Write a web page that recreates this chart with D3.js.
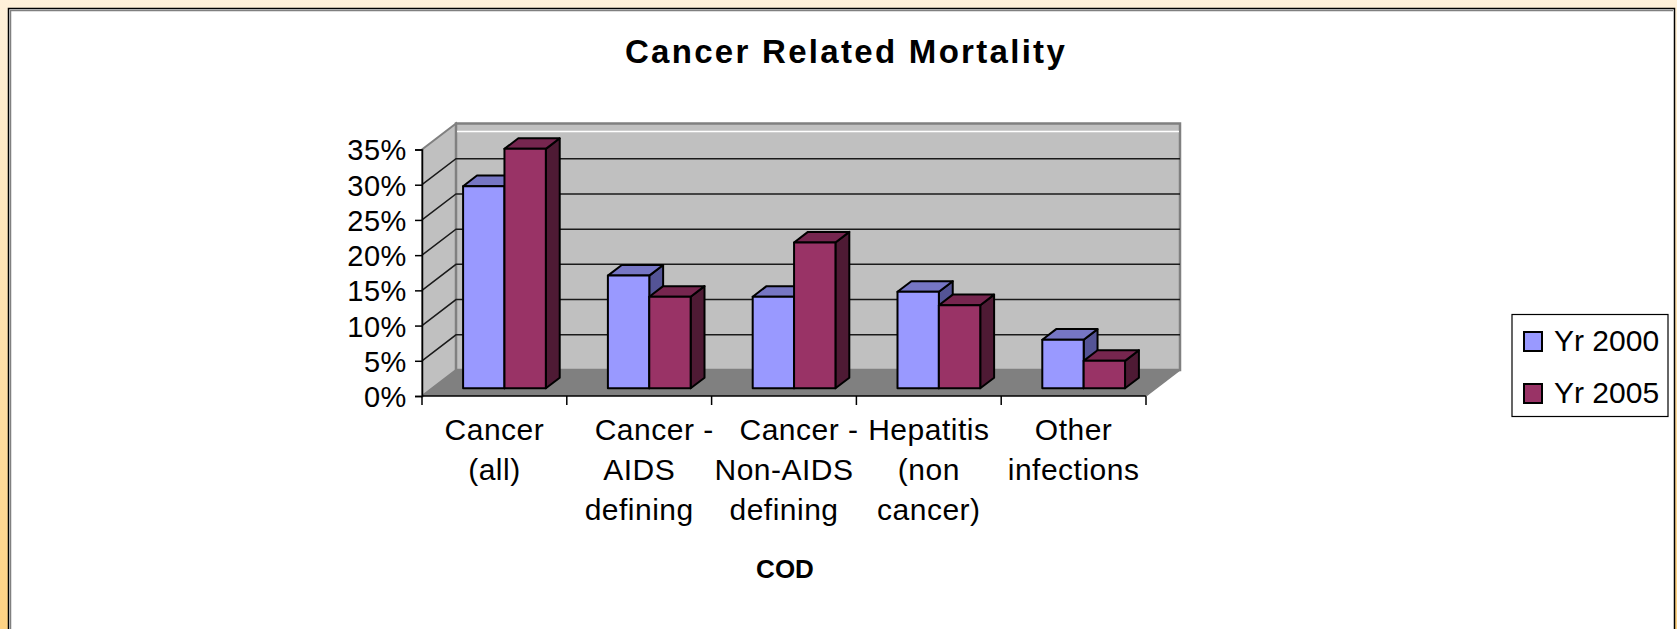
<!DOCTYPE html>
<html>
<head>
<meta charset="utf-8">
<script src="https://cdn.jsdelivr.net/npm/d3@7"></script>
<style>
  body { margin: 0; }
  text { font-family: "Liberation Sans", Arial, sans-serif; fill: #000; }
</style>
</head>
<body>
<div id="chart"></div>
<script>
// data
var categories = ["Cancer (all)", "Cancer - AIDS defining", "Cancer - Non-AIDS defining", "Hepatitis (non cancer)", "Other infections"];
var categoryLines = [["Cancer", "(all)"], ["Cancer -", "AIDS", "defining"], ["Cancer -", "Non-AIDS", "defining"], ["Hepatitis", "(non", "cancer)"], ["Other", "infections"]];
var seriesNames = ["Yr 2000", "Yr 2005"];
var yr2000 = [0.287, 0.16, 0.13, 0.137, 0.069];
var yr2005 = [0.34, 0.13, 0.207, 0.118, 0.039];
var yTicks = [0, 0.05, 0.10, 0.15, 0.20, 0.25, 0.30, 0.35];

var W = 1677, H = 629;
var colors = {
  "Yr 2000": { front: "#9999ff", top: "#7676c4", side: "#545496" },
  "Yr 2005": { front: "#993366", top: "#76264f", side: "#4e1a34" }
};

// 3d box geometry
var depthX = 34, depthY = -26;
var f0 = 0.296, f1 = 0.704;   // bar front / back depth as fraction of floor depth

var svg = d3.select("#chart").append("svg")
  .attr("width", W).attr("height", H);

var defs = svg.append("defs");
var grad = defs.append("linearGradient").attr("id", "bg")
  .attr("x1", 0).attr("y1", 0).attr("x2", 0).attr("y2", 1);
grad.append("stop").attr("offset", "0%").attr("stop-color", "#fff1da");
grad.append("stop").attr("offset", "100%").attr("stop-color", "#ffd383");

svg.append("rect").attr("width", W).attr("height", H).attr("fill", "url(#bg)");

// chart box
svg.append("rect")
  .attr("x", 8.5).attr("y", 8.5).attr("width", 1666).attr("height", 640)
  .attr("fill", "#fff").attr("stroke", "#000").attr("stroke-width", 1.5);
svg.append("path")
  .attr("d", "M10.5,650 V10.5 H1673")
  .attr("fill", "none").attr("stroke", "#808080").attr("stroke-width", 1.5);

// scales (front plane)
var x = d3.scaleBand().domain(categories).range([422, 1146])
  .paddingInner(1.5 / 3.5).paddingOuter(0.75 / 3.5);
var xs = d3.scaleBand().domain(seriesNames).range([0, x.bandwidth()]);
var y = d3.scaleLinear().domain([0, 0.35]).range([396, 149.5]);

var x0 = x.range()[0], x1 = x.range()[1];
var y0 = y(0), yTop = y(0.35);

// walls
svg.append("polygon")
  .attr("points", [[x0, y0], [x0, yTop], [x0 + depthX, yTop + depthY], [x0 + depthX, y0 + depthY]].join(" "))
  .attr("fill", "#c0c0c0").attr("stroke", "#808080").attr("stroke-width", 2);
svg.append("rect")
  .attr("x", x0 + depthX).attr("y", yTop + depthY)
  .attr("width", x1 - x0).attr("height", y0 - yTop)
  .attr("fill", "#c0c0c0").attr("stroke", "#808080").attr("stroke-width", 2.5);
svg.append("line")
  .attr("x1", x0 + depthX + 1).attr("x2", x1 + depthX - 1)
  .attr("y1", yTop + depthY + 8).attr("y2", yTop + depthY + 8)
  .attr("stroke", "#fff").attr("stroke-width", 1.5);
// floor
svg.append("polygon")
  .attr("points", [[x0, y0], [x1, y0], [x1 + depthX, y0 + depthY], [x0 + depthX, y0 + depthY]].join(" "))
  .attr("fill", "#808080");

// gridlines: side wall + back wall
var grid = yTicks.filter(function(t) { return t > 0 && t < 0.35; });
svg.selectAll(".grid").data(grid).enter().append("path")
  .attr("class", "grid")
  .attr("d", function(t) {
    return "M" + x0 + "," + y(t) + " L" + (x0 + depthX) + "," + (y(t) + depthY) + " H" + (x1 + depthX);
  })
  .attr("fill", "none").attr("stroke", "#1a1a1a").attr("stroke-width", 1.5);

// axes
var yAxis = svg.append("g").attr("transform", "translate(" + x0 + ",0)")
  .call(d3.axisLeft(y).tickValues(yTicks).tickFormat(d3.format(".0%")).tickSize(7).tickPadding(8));
yAxis.select(".domain").attr("stroke", "#000").attr("stroke-width", 1.5);
yAxis.selectAll(".tick line").attr("stroke", "#000").attr("stroke-width", 1.5);
yAxis.selectAll("text").attr("font-size", 29).attr("letter-spacing", 0.6)
  .attr("font-family", "Liberation Sans, Arial, sans-serif").attr("dy", "0.36em");

var xAxis = svg.append("g").attr("transform", "translate(0," + y0 + ")");
xAxis.append("line").attr("x1", x0).attr("x2", x1).attr("stroke", "#000").attr("stroke-width", 1.5);
var step = x.step();
var tickXs = d3.range(categories.length + 1).map(function(i) { return x0 + i * step; });
xAxis.selectAll(".xt").data(tickXs).enter().append("line")
  .attr("x1", function(d) { return d; }).attr("x2", function(d) { return d; })
  .attr("y1", 0).attr("y2", 9).attr("stroke", "#000").attr("stroke-width", 1.5);
// floor right edge
svg.append("line")
  .attr("x1", x1).attr("y1", y0).attr("x2", x1 + depthX).attr("y2", y0 + depthY)
  .attr("stroke", "#808080").attr("stroke-width", 1.5);

// bars
var bars = [];
categories.forEach(function(c, i) {
  bars.push({ cat: c, s: "Yr 2000", v: yr2000[i] });
  bars.push({ cat: c, s: "Yr 2005", v: yr2005[i] });
});
var ax = depthX * f0, ay = depthY * f0;
var bx = depthX * f1, by = depthY * f1;
var g = svg.selectAll(".bar").data(bars).enter().append("g").attr("class", "bar")
  .attr("stroke", "#000").attr("stroke-width", 2).attr("stroke-linejoin", "round");
g.each(function(d) {
  var el = d3.select(this);
  var l = x(d.cat) + xs(d.s) + ax, r = l + xs.bandwidth();
  var t = y(d.v) + ay, b = y(0) + ay;
  var ddx = bx - ax, ddy = by - ay;
  el.append("polygon")
    .attr("points", [[r, b], [r, t], [r + ddx, t + ddy], [r + ddx, b + ddy]].join(" "))
    .attr("fill", colors[d.s].side);
  el.append("polygon")
    .attr("points", [[l, t], [r, t], [r + ddx, t + ddy], [l + ddx, t + ddy]].join(" "))
    .attr("fill", colors[d.s].top);
  el.append("rect")
    .attr("x", l).attr("y", t).attr("width", r - l).attr("height", b - t)
    .attr("fill", colors[d.s].front);
});

// category labels (a line that ends in a hyphen hangs a little to the right, like the original)
var lab = svg.selectAll(".cat").data(categories).enter().append("text")
  .attr("class", "cat")
  .attr("text-anchor", "middle").attr("font-size", 30).attr("letter-spacing", 0.5);
lab.each(function(c, i) {
  var el = d3.select(this);
  var cx = x(c) + x.bandwidth() / 2;
  categoryLines[i].forEach(function(line, k) {
    var shift = /-$/.test(line) ? 15 : 0;
    el.append("tspan").attr("x", cx + shift).attr("y", 440 + k * 40).text(line);
  });
});

// axis title
svg.append("text").attr("x", 785).attr("y", 578).attr("text-anchor", "middle")
  .attr("font-size", 26).attr("font-weight", "bold").text("COD");

// title
svg.append("text").attr("x", 846).attr("y", 63).attr("text-anchor", "middle")
  .attr("font-size", 33).attr("font-weight", "bold").attr("letter-spacing", 2.3)
  .text("Cancer Related Mortality");

// legend
var leg = svg.append("g");
leg.append("rect").attr("x", 1512).attr("y", 314.5).attr("width", 156).attr("height", 102)
  .attr("fill", "#fff").attr("stroke", "#000").attr("stroke-width", 1.2);
var li = leg.selectAll(".li").data(seriesNames).enter().append("g")
  .attr("transform", function(d, i) { return "translate(1524," + (332 + i * 52) + ")"; });
li.append("rect").attr("width", 18).attr("height", 19)
  .attr("fill", function(d) { return colors[d].front; })
  .attr("stroke", "#000").attr("stroke-width", 2);
li.append("text").attr("x", 30).attr("y", 18.5).attr("font-size", 30).text(function(d) { return d; });
</script>
</body>
</html>
